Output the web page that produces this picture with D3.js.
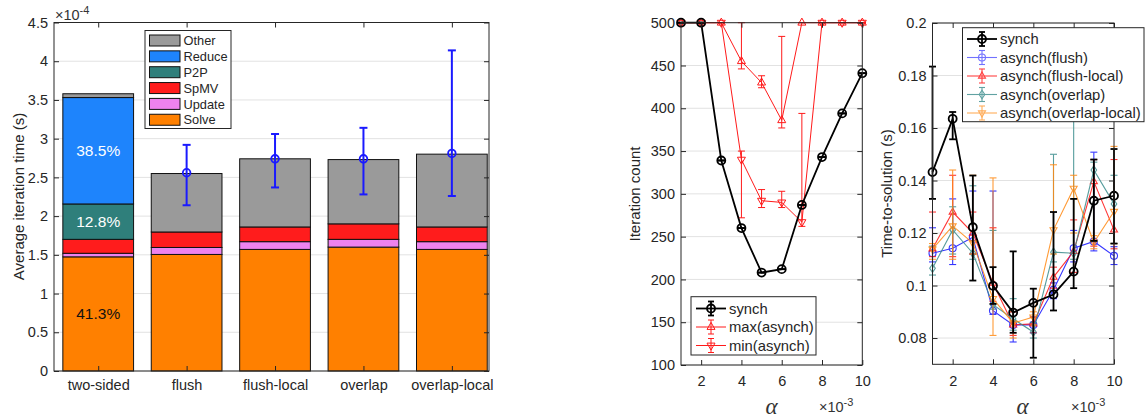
<!DOCTYPE html>
<html><head><meta charset="utf-8">
<script src="https://cdn.jsdelivr.net/npm/d3@7"></script>
<style>
body{margin:0;background:#fff}
svg{display:block}
text{font-family:"Liberation Sans",Arial,Helvetica,sans-serif;fill:#262626}
</style>
</head><body>
<svg id="c" width="1145" height="420"></svg>
<script>
// ---------- DATA: left panel (units of 1e-4 s) ----------
const categories = ["two-sided","flush","flush-local","overlap","overlap-local"];
const components = ["Solve","Update","SpMV","P2P","Reduce","Other"];
const solve  = [1.474, 1.505, 1.570, 1.600, 1.570];
const update = [0.046, 0.090, 0.100, 0.100, 0.100];
const spmv   = [0.180, 0.200, 0.190, 0.200, 0.190];
const p2p    = [0.457, 0, 0, 0, 0];
const reduce = [1.374, 0, 0, 0, 0];
const other  = [0.049, 0.755, 0.880, 0.830, 0.940];
const errCats = ["flush","flush-local","overlap","overlap-local"];
const errMean = [2.56, 2.74, 2.74, 2.81];
const errLo   = [2.14, 2.37, 2.28, 2.26];
const errHi   = [2.92, 3.06, 3.14, 4.14];
const pctComps  = ["Reduce","P2P","Solve"];
const pctLabels = ["38.5%","12.8%","41.3%"];
const leftYTicks = [0,0.5,1,1.5,2,2.5,3,3.5,4,4.5];

// ---------- DATA: middle panel ----------
const alpha = [1,2,3,4,5,6,7,8,9,10];
const iterSynch   = [500,500,339,260,208,212,287,343,394,441];
const iterSynchLo = [500,500,339,260,208,212,287,343,394,441];
const iterSynchHi = [500,500,339,260,208,212,287,343,394,441];
const iterMax   = [500,500,500,455,430,386,500,500,500,500];
const iterMaxLo = [500,500,500,446,424,377,500,500,500,500];
const iterMaxHi = [500,500,500,500,438,484,500,500,500,500];
const iterMin   = [500,500,500,340,292,290,267,500,500,500];
const iterMinLo = [500,500,500,272,284,284,262,500,500,500];
const iterMinHi = [500,500,500,350,305,303,394,500,500,500];
const midYTicks = [100,150,200,250,300,350,400,450,500];
const alphaTicks = [2,4,6,8,10];

// ---------- DATA: right panel (seconds) ----------
const tsSynch   = [0.1432,0.1635,0.1222,0.0999,0.0897,0.0934,0.0966,0.1053,0.1323,0.1342];
const tsSynchLo = [0.1330,0.1557,0.1019,0.0930,0.0820,0.0725,0.0905,0.0990,0.1170,0.1160];
const tsSynchHi = [0.1834,0.1661,0.1419,0.1070,0.1130,0.0988,0.1280,0.1330,0.1480,0.1520];
const tsFlush   = [0.1123,0.1142,0.1184,0.0904,0.0850,0.0850,0.0984,0.1142,0.1168,0.1113];
const tsFlushLo = [0.1090,0.1080,0.1120,0.0890,0.0785,0.0820,0.0950,0.1090,0.1132,0.1080];
const tsFlushHi = [0.1220,0.1330,0.1360,0.1360,0.0900,0.0880,0.1010,0.1210,0.1508,0.1148];
const tsFL   = [0.1140,0.1280,0.1200,0.1009,0.0850,0.0854,0.1032,0.1130,0.1396,0.1212];
const tsFLLo = [0.1110,0.1110,0.1120,0.0940,0.0810,0.0820,0.0990,0.1050,0.1150,0.1140];
const tsFLHi = [0.1280,0.1420,0.1280,0.1220,0.0900,0.0880,0.1070,0.1250,0.1480,0.1480];
const tsOv   = [0.1066,0.1212,0.1123,0.0927,0.0873,0.0823,0.1127,0.1123,0.1440,0.1311];
const tsOvLo = [0.1040,0.1120,0.1100,0.0910,0.0830,0.0800,0.1090,0.1100,0.1170,0.1160];
const tsOvHi = [0.1150,0.1300,0.1380,0.1210,0.0950,0.0860,0.1500,0.1900,0.1470,0.1420];
const tsOL   = [0.1139,0.1227,0.1162,0.0950,0.0857,0.0880,0.1212,0.1370,0.1164,0.1282];
const tsOLLo = [0.1100,0.1100,0.1120,0.0810,0.0800,0.0850,0.1120,0.1200,0.1140,0.1160];
const tsOLHi = [0.1160,0.1440,0.1420,0.1410,0.0900,0.0900,0.1460,0.1420,0.1190,0.1530];
const rightYTicks = [0.08,0.1,0.12,0.14,0.16,0.18,0.2];

// ---------- drawing ----------
const svg = d3.select("#c");
const INK = "#262626", GRID = "#e2e2e2";
const compColors = {Solve:"#ff8000",Update:"#ee82ee",SpMV:"#ff1c1c",P2P:"#2f7f7b",Reduce:"#1e84fc",Other:"#9a9a9a"};

function grid(g, r, ys, vals){
  g.append("g").selectAll("line").data(vals).join("line")
    .attr("x1",r.x0).attr("x2",r.x1).attr("y1",d=>ys(d)).attr("y2",d=>ys(d))
    .attr("stroke",GRID).attr("stroke-width",1);
}
function axes(g, r, xs, ys, xv, yv, xf, yf, xpad){
  const fs = "14.5px";
  const b = g.append("g").attr("transform",`translate(0,${r.y1})`)
    .call(d3.axisBottom(xs).tickValues(xv).tickFormat(xf).tickSizeInner(-5).tickSizeOuter(0).tickPadding(xpad));
  const t = g.append("g").attr("transform",`translate(0,${r.y0})`)
    .call(d3.axisTop(xs).tickValues(xv).tickFormat("").tickSizeInner(-5).tickSizeOuter(0));
  const l = g.append("g").attr("transform",`translate(${r.x0},0)`)
    .call(d3.axisLeft(ys).tickValues(yv).tickFormat(yf).tickSizeInner(-5).tickSizeOuter(0).tickPadding(6));
  const rr = g.append("g").attr("transform",`translate(${r.x1},0)`)
    .call(d3.axisRight(ys).tickValues(yv).tickFormat("").tickSizeInner(-5).tickSizeOuter(0));
  [b,t,l,rr].forEach(a=>{
    a.select(".domain").remove();
    a.selectAll("line").attr("stroke",INK);
    a.selectAll("text").attr("fill",INK).style("font-size",fs).style("font-family",'"Liberation Sans",Arial,sans-serif');
  });
  g.append("rect").attr("x",r.x0).attr("y",r.y0).attr("width",r.x1-r.x0).attr("height",r.y1-r.y0)
    .attr("fill","none").attr("stroke",INK).attr("stroke-width",1);
}
function ylabel(text, x, y){
  svg.append("text").attr("transform",`translate(${x},${y}) rotate(-90)`)
    .attr("text-anchor","middle").attr("dy","0.35em").style("font-size","15px").text(text);
}
function exponent(x, y, p){
  const e = svg.append("text").attr("x",x).attr("y",y).style("font-size","14.5px").style("fill","#333");
  e.append("tspan").text("×10");
  e.append("tspan").attr("dy",-6.5).style("font-size","11px").text(p);
}
function alphaLabel(x){
  svg.append("text").attr("x",x).attr("y",414).attr("text-anchor","middle")
    .style("font-family",'"Liberation Serif","Times New Roman",serif').style("font-style","italic")
    .style("font-size","23px").style("fill","#333").text("α");
}
function markerPath(type, s){
  if(type==="o") return d3.symbol(d3.symbolCircle, Math.PI*s*s)();
  if(type==="^") return `M0,${-s*1.15}L${s},${s*0.6}L${-s},${s*0.6}Z`;
  if(type==="v") return `M0,${s*1.15}L${s},${-s*0.6}L${-s},${-s*0.6}Z`;
  if(type==="d") return `M0,${-s*1.2}L${s*0.8},0L0,${s*1.2}L${-s*0.8},0Z`;
}
function series(g, xs, ys, xv, mean, lo, hi, color, mk, lw, ms, op){
  const gg = g.append("g").attr("opacity",op);
  const cw = 3.5;
  xv.forEach((x,i)=>{
    const X = xs(x);
    gg.append("line").attr("x1",X).attr("x2",X).attr("y1",ys(lo[i])).attr("y2",ys(hi[i])).attr("stroke",color).attr("stroke-width",lw);
    [lo[i],hi[i]].forEach(v=>gg.append("line").attr("x1",X-cw).attr("x2",X+cw).attr("y1",ys(v)).attr("y2",ys(v)).attr("stroke",color).attr("stroke-width",lw));
  });
  gg.append("path").datum(xv.map((x,i)=>[x,mean[i]]))
    .attr("d",d3.line().x(d=>xs(d[0])).y(d=>ys(d[1])))
    .attr("fill","none").attr("stroke",color).attr("stroke-width",lw);
  gg.selectAll(null).data(xv.map((x,i)=>[x,mean[i]])).join("path")
    .attr("transform",d=>`translate(${xs(d[0])},${ys(d[1])})`)
    .attr("d",markerPath(mk,ms)).attr("fill","none").attr("stroke",color).attr("stroke-width",lw);
}
function legendEntry(g, x0, x1, y, color, mk, lw, ms, label, op){
  const gg = g.append("g").attr("opacity",op);
  const cx = (x0+x1)/2;
  gg.append("line").attr("x1",x0).attr("x2",x1).attr("y1",y).attr("y2",y).attr("stroke",color).attr("stroke-width",lw);
  gg.append("line").attr("x1",cx).attr("x2",cx).attr("y1",y-7).attr("y2",y+7).attr("stroke",color).attr("stroke-width",lw);
  [y-7,y+7].forEach(v=>gg.append("line").attr("x1",cx-3).attr("x2",cx+3).attr("y1",v).attr("y2",v).attr("stroke",color).attr("stroke-width",lw));
  gg.append("path").attr("transform",`translate(${cx},${y})`).attr("d",markerPath(mk,ms)).attr("fill","none").attr("stroke",color).attr("stroke-width",lw);
  g.append("text").attr("x",x1+3).attr("y",y).attr("dy","0.35em").style("font-size","14.8px").text(label);
}

// ===== Left panel =====
{
  const r = {x0:54, x1:489, y0:22.5, y1:371};
  const xs = d3.scaleLinear().domain([0.5,5.42]).range([r.x0,r.x1]);
  const ys = d3.scaleLinear().domain([0,4.5]).range([r.y1,r.y0]);
  const g = svg.append("g");
  grid(g, r, ys, leftYTicks);
  const table = categories.map((c,i)=>({idx:i+1, Solve:solve[i], Update:update[i], SpMV:spmv[i], P2P:p2p[i], Reduce:reduce[i], Other:other[i]}));
  const stacked = d3.stack().keys(components)(table);
  const bw = xs(1.4)-xs(0.6);
  stacked.forEach(s=>{
    g.append("g").selectAll("rect").data(s.filter(d=>d[1]-d[0]>0)).join("rect")
      .attr("x",d=>xs(d.data.idx)-bw/2).attr("width",bw)
      .attr("y",d=>ys(d[1])).attr("height",d=>ys(d[0])-ys(d[1]))
      .attr("fill",compColors[s.key]).attr("stroke","#111").attr("stroke-width",1);
  });
  pctComps.forEach((c,k)=>{
    const s = stacked.find(q=>q.key===c)[0];
    g.append("text").attr("x",xs(1)).attr("y",ys((s[0]+s[1])/2)).attr("dy","0.35em")
      .attr("text-anchor","middle").style("font-size","15.5px")
      .style("fill", c==="Solve"?"#111":"#fff").text(pctLabels[k]);
  });
  errCats.forEach((c,i)=>{
    const X = xs(categories.indexOf(c)+1);
    const col="#1a1aff";
    g.append("line").attr("x1",X).attr("x2",X).attr("y1",ys(errLo[i])).attr("y2",ys(errHi[i])).attr("stroke",col).attr("stroke-width",2);
    [errLo[i],errHi[i]].forEach(v=>g.append("line").attr("x1",X-4).attr("x2",X+4).attr("y1",ys(v)).attr("y2",ys(v)).attr("stroke",col).attr("stroke-width",2));
    g.append("circle").attr("cx",X).attr("cy",ys(errMean[i])).attr("r",3.8).attr("fill","none").attr("stroke",col).attr("stroke-width",1.8);
  });
  axes(g, r, xs, ys, [1,2,3,4,5], leftYTicks, d=>categories[d-1], d=>String(d), 9);
  const lg = g.append("g");
  lg.append("rect").attr("x",145).attr("y",30.5).attr("width",86).attr("height",98).attr("fill","#fff").attr("stroke",INK);
  const legOrder = components.slice().reverse();
  legOrder.forEach((c,k)=>{
    const y = 40.5 + k*15.85;
    lg.append("rect").attr("x",149.5).attr("y",y-5.5).attr("width",30.5).attr("height",11).attr("fill",compColors[c]).attr("stroke","#111");
    lg.append("text").attr("x",183.5).attr("y",y).attr("dy","0.36em").style("font-size","12.8px").text(c);
  });
  exponent(55, 20, "-4");
  ylabel("Average iteration time (s)", 18.5, 196.5);
}

// ===== Middle panel =====
{
  const r = {x0:681, x1:862.3, y0:22.7, y1:365};
  const xs = d3.scaleLinear().domain([1,10]).range([r.x0,r.x1]);
  const ys = d3.scaleLinear().domain([100,500]).range([r.y1,r.y0]);
  const g = svg.append("g");
  grid(g, r, ys, midYTicks);
  series(g, xs, ys, alpha, iterMax, iterMaxLo, iterMaxHi, "#ff1a1a", "^", 1, 4, 1);
  series(g, xs, ys, alpha, iterMin, iterMinLo, iterMinHi, "#ff1a1a", "v", 1, 4, 1);
  series(g, xs, ys, alpha, iterSynch, iterSynchLo, iterSynchHi, "#000", "o", 1.8, 4, 1);
  axes(g, r, xs, ys, alphaTicks, midYTicks, d=>String(d), d=>String(d), 11);
  const lg = g.append("g");
  lg.append("rect").attr("x",691).attr("y",296.7).attr("width",125).attr("height",58.3).attr("fill","#fff").attr("stroke",INK);
  legendEntry(lg, 696, 726, 308.5, "#000", "o", 1.8, 4, "synch", 1);
  legendEntry(lg, 696, 726, 327, "#ff1a1a", "^", 1, 4, "max(asynch)", 1);
  legendEntry(lg, 696, 726, 345.5, "#ff1a1a", "v", 1, 4, "min(asynch)", 1);
  alphaLabel(771.5);
  exponent(819, 412, "-3");
  ylabel("Iteration count", 635, 194);
}

// ===== Right panel =====
{
  const r = {x0:932.5, x1:1114, y0:23, y1:364.3};
  const xs = d3.scaleLinear().domain([1,10]).range([r.x0,r.x1]);
  const ys = d3.scaleLinear().domain([0.07,0.2]).range([r.y1,r.y0]);
  const g = svg.append("g");
  grid(g, r, ys, rightYTicks);
  const C = {flush:"#1414ff", fl:"#ff1414", ov:"#3a8c8c", ol:"#ff8a14"};
  series(g, xs, ys, alpha, tsFlush, tsFlushLo, tsFlushHi, C.flush, "o", 1.1, 3.5, 0.85);
  series(g, xs, ys, alpha, tsFL, tsFLLo, tsFLHi, C.fl, "^", 1.1, 3.5, 0.85);
  series(g, xs, ys, alpha, tsOv, tsOvLo, tsOvHi, C.ov, "d", 1.1, 3.5, 0.85);
  series(g, xs, ys, alpha, tsOL, tsOLLo, tsOLHi, C.ol, "v", 1.1, 3.5, 0.85);
  series(g, xs, ys, alpha, tsSynch, tsSynchLo, tsSynchHi, "#000", "o", 1.8, 4, 1);
  axes(g, r, xs, ys, alphaTicks, rightYTicks, d=>String(d), d=>String(+d.toFixed(2)), 11);
  const lg = g.append("g");
  lg.append("rect").attr("x",962.5).attr("y",27.7).attr("width",181.5).attr("height",94).attr("fill","#fff").attr("stroke",INK);
  legendEntry(lg, 967, 997, 39, "#000", "o", 1.8, 4, "synch", 1);
  legendEntry(lg, 967, 997, 57.5, C.flush, "o", 1.1, 3.5, "asynch(flush)", 0.6);
  legendEntry(lg, 967, 997, 76, C.fl, "^", 1.1, 3.5, "asynch(flush-local)", 0.8);
  legendEntry(lg, 967, 997, 94.5, C.ov, "d", 1.1, 3.5, "asynch(overlap)", 0.8);
  legendEntry(lg, 967, 997, 113, C.ol, "v", 1.1, 3.5, "asynch(overlap-local)", 0.7);
  alphaLabel(1022.5);
  exponent(1071, 412, "-3");
  ylabel("Time-to-solution (s)", 887, 193.5);
}
</script>
</body></html>
